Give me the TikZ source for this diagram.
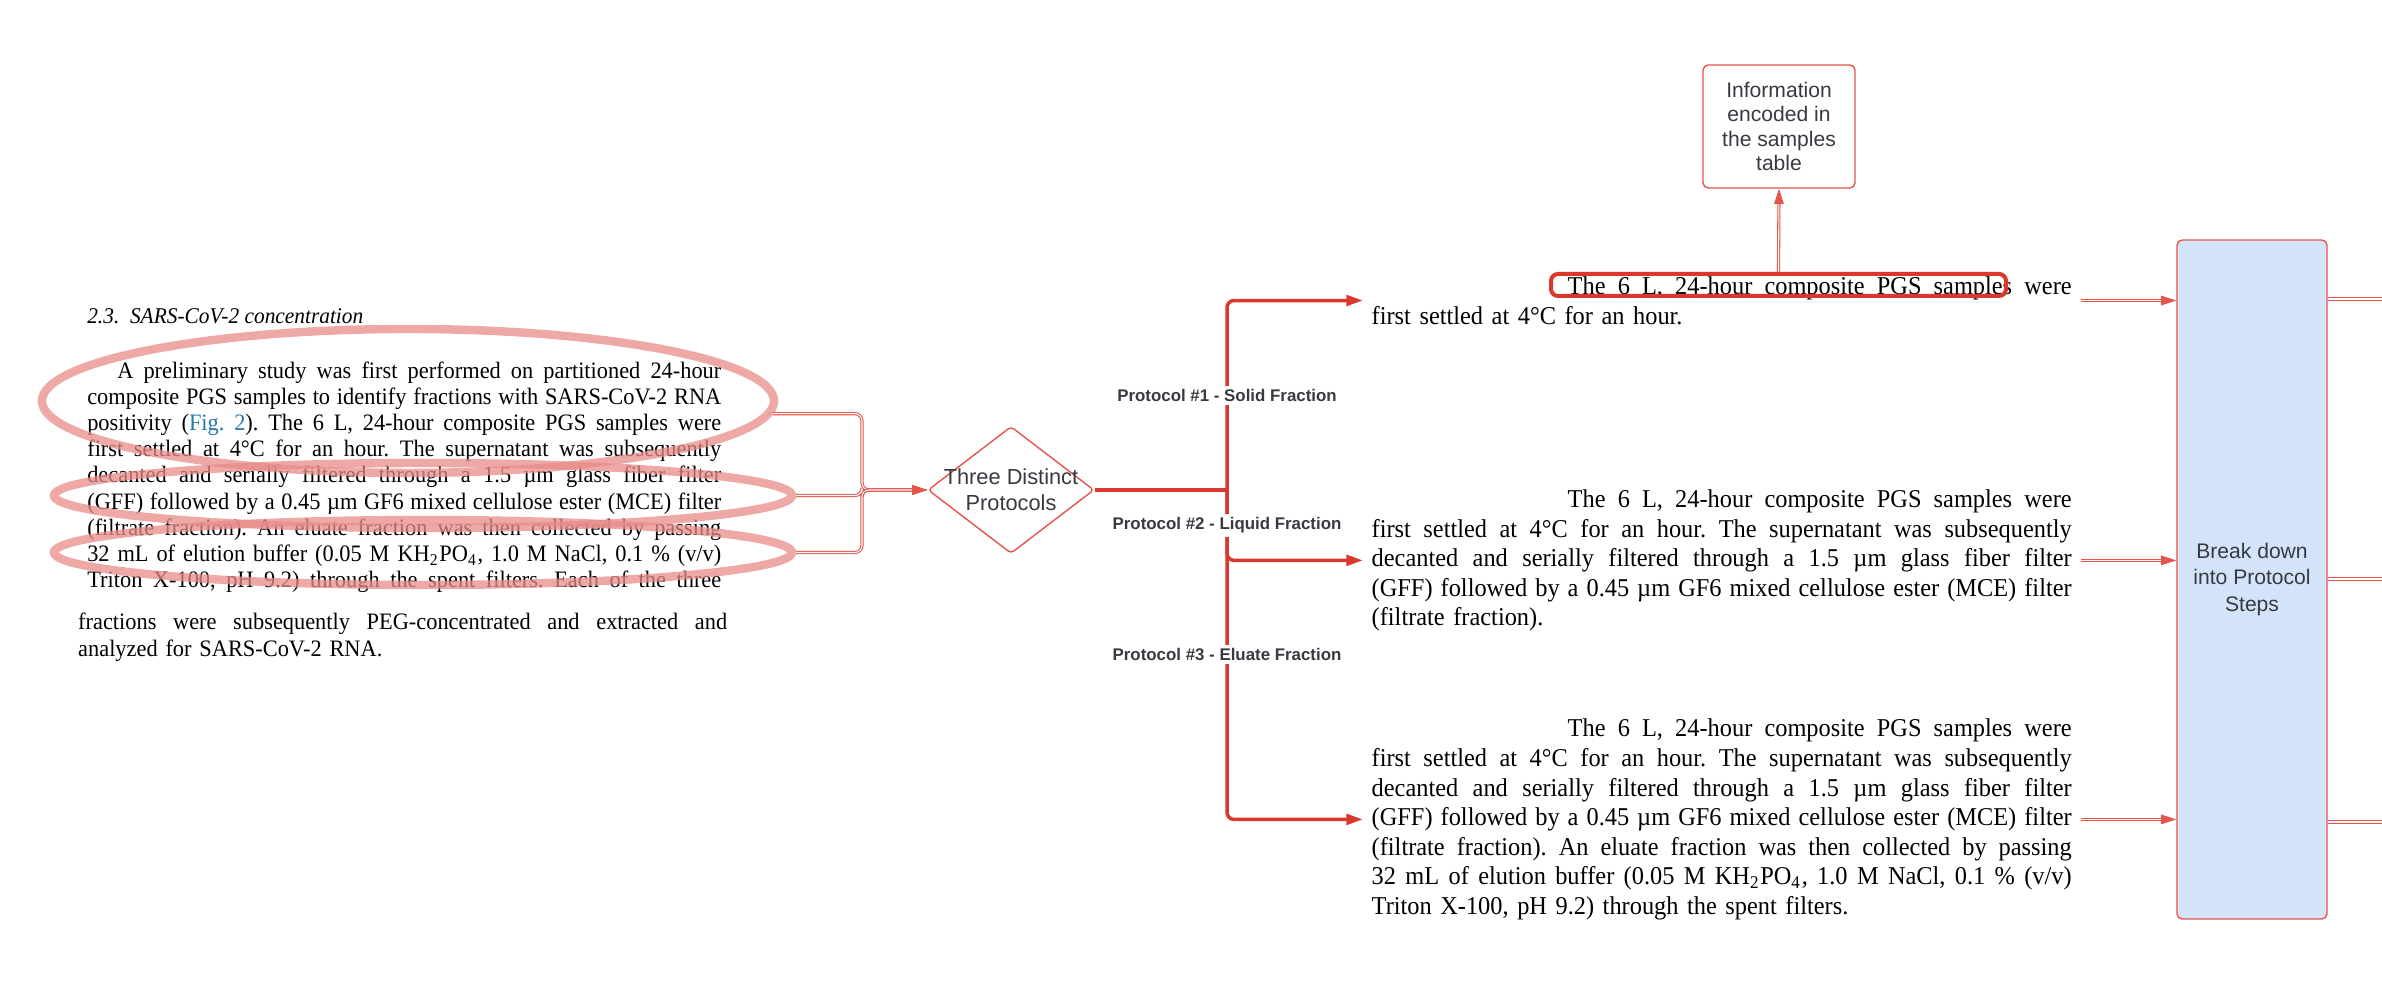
\documentclass[tikz,border=0pt]{standalone}
\usepackage{fontspec}
\setmainfont{Liberation Serif}[FakeStretch=0.95]
\setsansfont{Liberation Sans}
\usetikzlibrary{arrows.meta,shapes.geometric}
\definecolor{lcred}{RGB}{218,55,45}
\definecolor{lcline}{RGB}{228,85,75}
\definecolor{lcpink}{RGB}{232,140,138}
\definecolor{lcblue}{RGB}{210,227,250}
\definecolor{lcgray}{RGB}{55,58,64}
\definecolor{figblue}{RGB}{40,120,170}
\newcommand{\jline}[1]{\makebox[\hsize][s]{\spaceskip=0.25em plus 1.5em minus 0.12em\relax #1}\par}
\frenchspacing

\begin{document}
\begin{tikzpicture}[
  papertext/.style={anchor=north west,inner sep=0pt,text width=#1},
  ring/.style={ellipse,draw=lcpink,draw opacity=0.75,line width=2.4pt,inner sep=0pt},
  thinline/.style={draw=lcline,double=white,line width=0.3pt,double distance=0.3pt,rounded corners=2pt},
  thinarrow/.style={thinline,-{Triangle[length=4.3pt,width=2.7pt]}},
  thickarrow/.style={lcred,line width=1pt,rounded corners=2pt,-{Triangle[length=4.7pt,width=3pt]}},
  plabel/.style={fill=white,inner sep=1pt,text=lcgray,font=\sffamily\bfseries\fontsize{4.8}{5.5}\selectfont},
  chartbox/.style={draw=lcline,line width=0.4pt,rounded corners=1.5pt,align=center,text=lcgray}
]
  \useasboundingbox (0,0) rectangle (23.82,10);

  \node[anchor=west,inner sep=0pt,font=\fontsize{6.4}{7}\selectfont\itshape] (sec) at (0.866,6.84) {2.3.\ \ SARS-CoV-2 concentration};
  \node[papertext=6.34cm,font=\fontsize{6.7}{7.45}\selectfont] (intro) at (0.866,6.39) {%
    \jline{\hspace{0.3cm}A preliminary study was first performed on partitioned 24-hour}%
    \jline{composite PGS samples to identify fractions with SARS-CoV-2 RNA}%
    \jline{positivity ({\color{figblue}Fig. 2}). The 6 L, 24-hour composite PGS samples were}%
    \jline{first settled at 4°C for an hour. The supernatant was subsequently}%
    \jline{decanted and serially filtered through a 1.5 µm glass fiber filter}%
    \jline{(GFF) followed by a 0.45 µm GF6 mixed cellulose ester (MCE) filter}%
    \jline{(filtrate fraction). An eluate fraction was then collected by passing}%
    \jline{32 mL of elution buffer (0.05 M KH\textsubscript{2}PO\textsubscript{4}, 1.0 M NaCl, 0.1 \% (v/v)}%
    \jline{Triton X-100, pH 9.2) through the spent filters. Each of the three}};
  \node[papertext=6.49cm,font=\fontsize{6.7}{7.77}\selectfont] (outro) at (0.775,3.88) {%
    \jline{fractions were subsequently PEG-concentrated and extracted and}%
    analyzed for SARS-CoV-2 RNA.};

  \node[ring,minimum width=7.32cm,minimum height=1.44cm] (ell1) at (4.08,5.99) {};
  \node[ring,minimum width=7.38cm,minimum height=0.65cm] (ell2) at (4.23,5.045) {};
  \node[ring,minimum width=7.38cm,minimum height=0.65cm] (ell3) at (4.23,4.475) {};

  \node[diamond,draw=lcline,line width=0.4pt,fill=white,rounded corners=1pt,inner sep=0pt,
    minimum width=1.66cm,minimum height=1.27cm,
    label={[align=center,text=lcgray,font=\sffamily\fontsize{6.2}{7.3}\selectfont]center:Three Distinct\\Protocols}] (proto) at (10.11,5.10) {};
  \coordinate (join) at (8.62,5.10);
  \coordinate (fork) at (12.27,5.10);

  \draw[thinarrow] (ell1.-2) -| (join) -- (proto.west);
  \draw[thinarrow] (ell2.east) -| (join) -- (proto.west);
  \draw[thinarrow] (ell3.east) -| (join) -- (proto.west);

  \node[papertext=7.0cm,font=\fontsize{7.3}{8.4}\selectfont] (solid) at (13.71,7.24) {%
    \jline{\hspace{1.96cm}The 6 L, 24-hour composite PGS samples were}%
    first settled at 4°C for an hour.};
  \node[papertext=7.0cm,font=\fontsize{7.3}{8.4}\selectfont] (liquid) at (13.71,5.11) {%
    \jline{\hspace{1.96cm}The 6 L, 24-hour composite PGS samples were}%
    \jline{first settled at 4°C for an hour. The supernatant was subsequently}%
    \jline{decanted and serially filtered through a 1.5 µm glass fiber filter}%
    \jline{(GFF) followed by a 0.45 µm GF6 mixed cellulose ester (MCE) filter}%
    (filtrate fraction).};
  \node[papertext=7.0cm,font=\fontsize{7.3}{8.4}\selectfont] (eluate) at (13.71,2.815) {%
    \jline{\hspace{1.96cm}The 6 L, 24-hour composite PGS samples were}%
    \jline{first settled at 4°C for an hour. The supernatant was subsequently}%
    \jline{decanted and serially filtered through a 1.5 µm glass fiber filter}%
    \jline{(GFF) followed by a 0.45 µm GF6 mixed cellulose ester (MCE) filter}%
    \jline{(filtrate fraction). An eluate fraction was then collected by passing}%
    \jline{32 mL of elution buffer (0.05 M KH\textsubscript{2}PO\textsubscript{4}, 1.0 M NaCl, 0.1 \% (v/v)}%
    Triton X-100, pH 9.2) through the spent filters.};

  \draw[lcred,line width=1pt] (proto.east) -- (fork);
  \draw[thickarrow,shorten >=2.3pt] (fork) |- (solid.west) coordinate[pos=0.25] (p1);
  \draw[thickarrow,shorten >=2.3pt] (fork) |- (liquid.west) coordinate[pos=0.25] (p2);
  \draw[thickarrow,shorten >=2.3pt] (fork) |- (eluate.west) coordinate[pos=0.25] (p3);
  \node[plabel] (lab1) at (p1) {Protocol \#1 - Solid Fraction};
  \node[plabel] (lab2) at (p2) {Protocol \#2 - Liquid Fraction};
  \node[plabel] (lab3) at (p3) {Protocol \#3 - Eluate Fraction};

  \node[draw=lcred,line width=1.15pt,rounded corners=0.07cm,minimum width=4.55cm,minimum height=0.22cm,inner sep=0pt] (hl) at (17.785,7.15) {};
  \node[chartbox,fill=white,minimum width=1.52cm,minimum height=1.23cm,font=\sffamily\fontsize{6}{6.9}\selectfont] (info) at (17.79,8.735) {Information\\encoded in\\the samples\\table};
  \draw[thinarrow] (hl.north) -- (info.south);

  \node[chartbox,fill=lcblue,minimum width=1.50cm,minimum height=6.79cm,font=\sffamily\fontsize{6}{7.6}\selectfont] (steps) at (22.52,4.205) {Break down\\into Protocol\\Steps};
  \draw[thinarrow,shorten <=2.5pt] (solid.east) -- (solid.east -| steps.west);
  \draw[thinarrow,shorten <=2.5pt] (liquid.east) -- (liquid.east -| steps.west);
  \draw[thinarrow,shorten <=2.5pt] (eluate.east) -- (eluate.east -| steps.west);

  \coordinate (out1) at (23.82,7.01);
  \coordinate (out2) at (23.82,4.21);
  \coordinate (out3) at (23.82,1.78);
  \draw[thinline] (out1 -| steps.east) -- (out1);
  \draw[thinline] (out2 -| steps.east) -- (out2);
  \draw[thinline] (out3 -| steps.east) -- (out3);
\end{tikzpicture}
\end{document}
